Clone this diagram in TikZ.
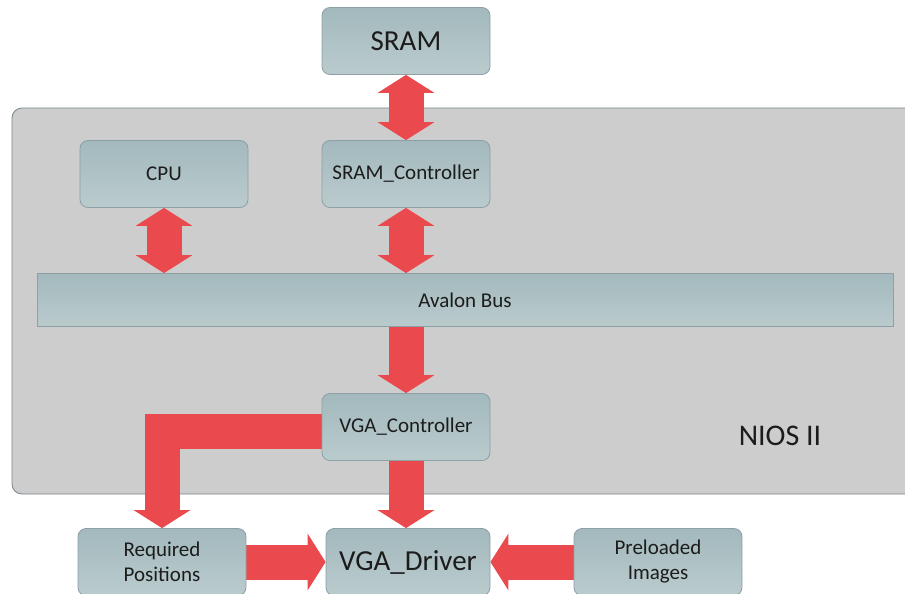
\documentclass[tikz,border=0pt]{standalone}
\usepackage{fontspec}
\setmainfont{Carlito}
\usetikzlibrary{arrows.meta,backgrounds,calc}
\definecolor{boxtop}{RGB}{163,185,189}
\definecolor{boxbot}{RGB}{186,203,205}
\definecolor{boxline}{RGB}{140,160,166}
\definecolor{niosfill}{RGB}{205,205,205}
\definecolor{niosline}{RGB}{120,132,140}
\definecolor{busred}{RGB}{234,74,78}
\definecolor{txt}{RGB}{28,28,28}

\begin{document}
\begin{tikzpicture}[x=1pt,y=-1pt,
        blk/.style={rectangle,rounded corners=8pt,draw=boxline,line width=0.8pt,
          top color=boxtop,bottom color=boxbot,minimum width=168pt,minimum height=67pt,
          inner sep=2pt,text=txt,align=center,font=\fontsize{21}{25}\selectfont},
        big/.style={font=\fontsize{29}{34}\selectfont},
        fat/.style={draw=busred,line width=35pt,-{Triangle[length=18pt,width=56pt]}},
        fatboth/.style={fat,{Triangle[length=18pt,width=56pt]}-{Triangle[length=18pt,width=56pt]}}]
        \path[use as bounding box] (0,0) rectangle (905,594);
        \clip (0,0) rectangle (905,594);
        \node[blk,big] (sram) at (406,41) {SRAM};
        \node[blk] (sramctl) at (406,174) {SRAM\_Controller};
        \node[blk] (cpu) at (164,174) {CPU};
        \node[blk,rounded corners=0pt,minimum width=856pt,minimum height=53pt,
          font=\fontsize{21}{25}\selectfont] (avalon) at (465,300) {Avalon Bus};
        \node[blk] (vgactl) at (406,427) {VGA\_Controller};
        \node[blk,big,minimum width=164pt] (driver) at (408,562) {VGA\_Driver};
        \node[blk] (reqpos) at (162,562) {Required\\Positions};
        \node[blk] (preload) at (658,562) {Preloaded\\Images};
        \node[text=txt,font=\fontsize{30}{36}\selectfont] (niostxt) at (780,436) {NIOS II};
        % container and buses behind the blocks
        \begin{scope}[on background layer]
          \node[draw=niosline,fill=niosfill,line width=0.8pt,rounded corners=10pt,
            minimum width=930pt,minimum height=386pt] (nios) at (477,301) {};
          \draw[fatboth] (sram) -- (sramctl);
          \draw[fatboth] (cpu.south) -- (cpu.south |- avalon.north);
          \draw[fatboth] (sramctl.south) -- (sramctl.south |- avalon.north);
          \draw[fat] (vgactl.north |- avalon.south) -- (vgactl.north);
          \draw[fat] (vgactl.south) -- (vgactl.south |- driver.north);
          \draw[fat] ([yshift=-4pt]vgactl.west) -| (reqpos.north);
          \draw[fat] (reqpos) -- (driver);
          \draw[fat] (preload) -- (driver);
        \end{scope}
\end{tikzpicture}
\end{document}
